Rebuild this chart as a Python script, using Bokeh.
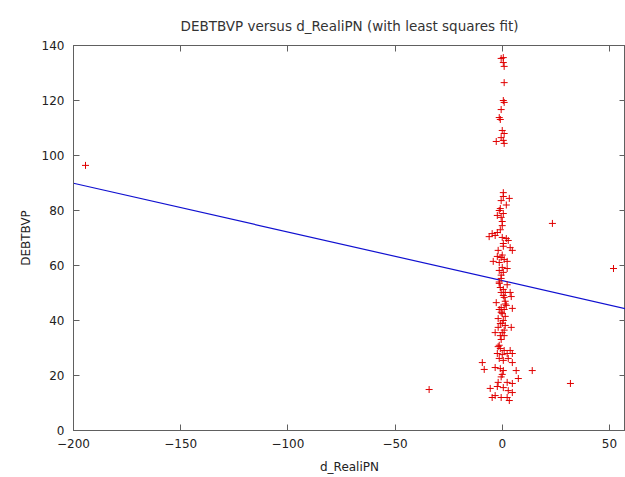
from bokeh.plotting import figure
from bokeh.models import LinearAxis, Range1d, FixedTicker
from bokeh.embed import file_html
from bokeh.resources import INLINE

# Scatter data: d_RealiPN (x) vs DEBTBVP (y)
d_realipn = [
    -194.4, -34.1, 23.4, 51.9, 31.8, 14.0,
    -0.5, 0.5, 0.5, 0.9, 0.9, 0.5, 0.9, -0.5, -1.4, -0.9, 0.0, 0.9, -0.5, -2.8, 0.5, 0.9,
    0.5, 0.5, 3.3, -0.5, -0.9, -1.4, 0.5, -2.3, -0.5, 0.0, -2.3, -4.7, -6.1, -3.3, 0.0,
    1.9, 2.8, 0.5, 3.7, 4.7, -1.9, -2.3, -0.5, 0.9, -4.2, -1.4, 2.3, 0.0, 2.3, -1.4, 0.5,
    -0.5, -0.9, 0.5, -0.5, 1.4, 3.7, 0.5, 4.2, 0.9, -2.8, -0.5, -1.4, 0.9, 4.7, 0.0, 1.4,
    -1.9, 0.5, -0.9, 1.4, -1.9, 4.2, -3.3, 0.0, -0.9, 0.9, -0.5, 1.4, -1.4, 0.0, 2.3,
    -0.9, 0.9, 3.7, -2.3, 0.0, 2.3, 4.7, -1.4, 2.8, -9.3, 4.7, -8.4, -3.3, -0.9, 0.5,
    6.5, 0.0, 7.5, -1.9, 2.3, 4.7, -5.6, -2.3, 0.5, 2.8, 4.7, -4.7, -3.3, -0.5, 2.3, 3.3,
    -0.5, 1.4, 0.0, -1.4, 0.5, -0.9, 1.9, -0.5, 0.9, -1.9, 0.5, -0.5, 1.9, -1.4, 0.0,
]
debtbvp = [
    96.4, 14.9, 75.3, 58.9, 17.1, 21.8,
    135.3, 135.6, 133.8, 132.4, 126.5, 120.0, 119.3, 116.7, 113.8, 113.1, 109.1, 108.0, 106.5, 105.1, 105.5, 104.4,
    86.5, 85.1, 84.4, 83.6, 80.7, 80.0, 78.9, 78.2, 77.5, 74.5, 72.0, 71.6, 70.5, 70.9, 70.2,
    69.8, 69.1, 68.0, 66.5, 65.5, 65.5, 63.3, 62.9, 62.2, 61.5, 61.1, 61.5, 59.3, 58.9, 58.2, 57.5,
    55.3, 52.0, 51.3, 50.2, 50.2, 50.2, 49.1, 48.7, 48.4, 46.5, 44.7, 44.0, 44.0, 44.4, 42.5, 41.5,
    40.7, 40.0, 38.9, 38.2, 37.5, 37.5, 35.6, 35.6, 34.5, 34.5, 33.1, 46.0, 53.5, 63.8, 53.0,
    29.8, 29.1, 29.1, 28.0, 27.6, 28.0, 28.0, 26.2, 26.2, 24.7, 24.7, 22.2, 22.9, 22.5, 21.8,
    21.8, 20.4, 18.9, 17.5, 17.5, 17.1, 15.3, 16.0, 15.6, 14.5, 13.8, 12.0, 12.7, 12.0, 12.0, 10.9,
    56.5, 47.0, 39.0, 31.0, 67.0, 73.0, 82.0, 43.0, 36.5, 30.5, 25.5, 19.5, 45.5, 54.0, 76.0,
]

# Least-squares fit line endpoints
fit_x = [-200.0, 57.5]
fit_y = [89.9, 44.3]

x_ticks = [-200, -150, -100, -50, 0, 50]
y_ticks = [0, 20, 40, 60, 80, 100, 120, 140]

FONT = "DejaVu Sans"
AX = "#606060"
TXT = "#222222"

p = figure(width=625, height=477, output_backend="svg", toolbar_location=None,
           x_range=Range1d(-200, 57.5), y_range=Range1d(0, 140),
           min_border_left=73, min_border_right=0, min_border_top=45, min_border_bottom=47)
p.background_fill_color = "white"
p.border_fill_color = "white"
p.outline_line_color = AX
p.outline_line_width = 1
p.xgrid.visible = False
p.ygrid.visible = False

p.title.text = "DEBTBVP versus d_RealiPN (with least squares fit)"
p.title.align = "center"
p.title.text_font = FONT
p.title.text_font_size = "13.5px"
p.title.text_font_style = "normal"
p.title.text_color = "#333333"
p.title.standoff = 24

for ax, ticks in ((p.xaxis[0], x_ticks), (p.yaxis[0], y_ticks)):
    ax.ticker = FixedTicker(ticks=ticks)
    ax.major_tick_in = 6
    ax.major_tick_out = 0
    ax.minor_tick_in = 0
    ax.minor_tick_out = 0
    ax.axis_line_color = AX
    ax.major_tick_line_color = AX
    ax.major_label_text_font = FONT
    ax.major_label_text_font_size = "12px"
    ax.major_label_text_color = TXT
    ax.axis_label_text_font = FONT
    ax.axis_label_text_font_size = "12px"
    ax.axis_label_text_font_style = "normal"
    ax.axis_label_text_color = TXT

p.xaxis[0].axis_label = "d_RealiPN"
p.xaxis[0].major_label_standoff = 8
p.xaxis[0].axis_label_standoff = 9
p.yaxis[0].axis_label = "DEBTBVP"
p.yaxis[0].major_label_standoff = 9
p.yaxis[0].axis_label_standoff = 6

# mirrored ticks on top and right (drawn as label-less minor ticks)
top = LinearAxis(ticker=FixedTicker(ticks=[], minor_ticks=x_ticks), major_tick_in=0, major_tick_out=0,
                 minor_tick_in=6, minor_tick_out=0, axis_line_color=None,
                 minor_tick_line_color=AX, major_label_standoff=0)
right = LinearAxis(ticker=FixedTicker(ticks=[], minor_ticks=y_ticks), major_tick_in=0, major_tick_out=0,
                   minor_tick_in=6, minor_tick_out=0, axis_line_color=None,
                   minor_tick_line_color=AX, major_label_standoff=0)
p.add_layout(top, "above")
p.add_layout(right, "right")

p.line(fit_x, fit_y, line_color="#1010d0", line_width=1.2)
p.scatter(d_realipn, debtbvp, marker="cross", size=7, line_color="#e00000", line_width=1)

open("out.html", "w").write(file_html(p, INLINE))
